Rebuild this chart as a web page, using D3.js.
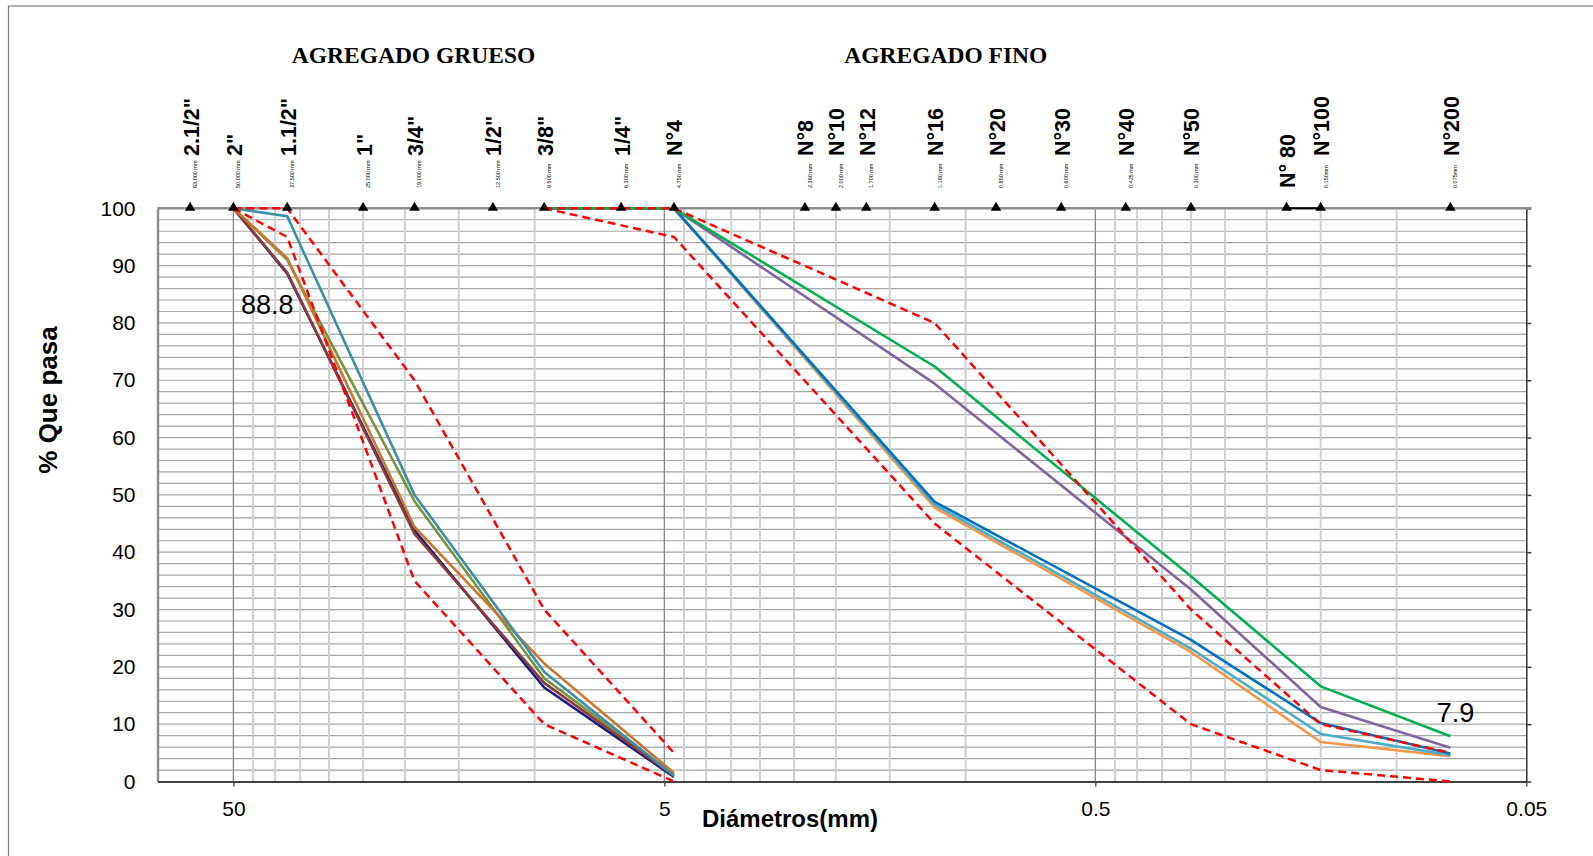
<!DOCTYPE html>
<html>
<head>
<meta charset="utf-8">
<script src="https://cdn.jsdelivr.net/npm/d3@7"></script>
<style>
body { margin: 0; background: #fff; }
text { font-family: "Liberation Sans", Arial, sans-serif; }
</style>
</head>
<body>
<div id="chart"></div>
<script>
// tamices (mm) y sus nombres
var sieveSizes = [63, 50, 37.5, 25, 19, 12.5, 9.5, 6.3, 4.75, 2.36, 2.0, 1.7, 1.18, 0.85, 0.6, 0.425, 0.3, 0.18, 0.15, 0.075];
var sieveNames = ["2.1/2\"", "2\"", "1.1/2\"", "1\"", "3/4\"", "1/2\"", "3/8\"", "1/4\"", "N°4", "N°8", "N°10", "N°12", "N°16", "N°20", "N°30", "N°40", "N°50", "N° 80", "N°100", "N°200"];
var sieveMm = ["63.000 mm", "50.000 mm", "37.500 mm", "25.000 mm", "19.000 mm", "12.500 mm", "9.500 mm", "6.300 mm", "4.750 mm", "2.360 mm", "2.000 mm", "1.700 mm", "1.180 mm", "0.850 mm", "0.600 mm", "0.425 mm", "0.300 mm", "", "0.150mm", "0.075mm"];

// agregado grueso
var coarseSizes = [50, 37.5, 19, 9.5, 4.75];
var coarseNavy = [100, 88.6, 43.8, 16.4, 0.8];
var coarseOlive = [100, 91.0, 48.9, 18.0, 1.2];
var coarseMaroon = [100, 88.8, 43.2, 17.2, 1.0];
var coarseOrange = [100, 91.3, 44.4, 20.6, 1.5];
var coarseTeal = [100, 98.6, 50.0, 19.1, 1.0];
var coarseLow = [100, 95, 35, 10, 0];
var coarseHigh = [100, 100, 70, 30, 5];

// agregado fino
var fineSizes = [9.5, 4.75, 1.18, 0.3, 0.15, 0.075];
var fineOrange = [100, 100, 47.8, 22.6, 6.9, 4.4];
var fineTeal = [100, 100, 48.3, 23.2, 8.3, 4.6];
var fineBlue = [100, 100, 48.8, 24.7, 10.2, 4.9];
var finePurple = [100, 100, 69.4, 33.5, 13.0, 5.9];
var fineGreen = [100, 100, 72.4, 35.8, 16.6, 7.9];
var fineLow = [100, 95, 45, 10, 2, 0];
var fineHigh = [100, 100, 80, 30, 10, 5];

var xTicks = [50, 5, 0.5, 0.05];
var yTicks = [0, 10, 20, 30, 40, 50, 60, 70, 80, 90, 100];

var width = 1593, height = 856;
var pLeft = 157.5, pRight = 1526.3, pTop = 208.3, pBottom = 781.5;

var svg = d3.select("#chart").append("svg")
    .attr("width", width)
    .attr("height", height);

// borde exterior
svg.append("rect")
    .attr("x", 8.5).attr("y", 6)
    .attr("width", 1700).attr("height", 1000)
    .attr("fill", "none").attr("stroke", "#7f7f7f").attr("stroke-width", 1.2);

var x = d3.scaleLog().domain([75, 0.05]).range([pLeft, pRight]);
var y = d3.scaleLinear().domain([0, 100]).range([pBottom, pTop]);

// grilla horizontal cada 2%
svg.append("g").selectAll("line")
    .data(d3.range(2, 100, 2))
    .enter().append("line")
    .attr("x1", pLeft).attr("x2", pRight)
    .attr("y1", function(d) { return y(d); })
    .attr("y2", function(d) { return y(d); })
    .attr("stroke", "#a6a6a6").attr("stroke-width", 1.2);

// grilla vertical (log)
var minor = [];
[0.05, 0.5, 5].forEach(function(b) {
  for (var k = 2; k <= 9; k++) minor.push(+(b * k).toFixed(3));
});
svg.append("g").selectAll("line")
    .data(minor)
    .enter().append("line")
    .attr("x1", function(d) { return x(d); })
    .attr("x2", function(d) { return x(d); })
    .attr("y1", pTop).attr("y2", pBottom)
    .attr("stroke", "#d0d0d0").attr("stroke-width", 2);
svg.append("g").selectAll("line")
    .data([50, 5, 0.5])
    .enter().append("line")
    .attr("x1", function(d) { return x(d); })
    .attr("x2", function(d) { return x(d); })
    .attr("y1", pTop).attr("y2", pBottom)
    .attr("stroke", "#8c8c8c").attr("stroke-width", 1.4);

// ejes
var yAxis = svg.append("g")
    .attr("transform", "translate(" + pLeft + ",0)")
    .call(d3.axisLeft(y).tickValues(yTicks).tickSize(0).tickPadding(22));
yAxis.select(".domain").attr("stroke", "#8c8c8c").attr("stroke-width", 2.5);
yAxis.selectAll("text").attr("font-size", 21).attr("fill", "#000")
    .style("font-family", "Liberation Sans, Arial, sans-serif");

var rAxis = svg.append("g")
    .attr("transform", "translate(" + pRight + ",0)")
    .call(d3.axisRight(y).tickValues(yTicks).tickSize(5).tickSizeOuter(0).tickFormat(""));
rAxis.selectAll("path,line").attr("stroke", "#404040").attr("stroke-width", 1.6);

svg.append("line")
    .attr("x1", pLeft).attr("x2", pRight + 5)
    .attr("y1", pTop).attr("y2", pTop)
    .attr("stroke", "#8c8c8c").attr("stroke-width", 2.5);

var xAxis = svg.append("g")
    .attr("transform", "translate(0," + pBottom + ")")
    .call(d3.axisBottom(x).tickValues(xTicks).tickSize(5).tickSizeOuter(0).tickPadding(15)
      .tickFormat(function(d) { return String(d); }));
xAxis.select(".domain").attr("stroke", "#404040").attr("stroke-width", 2);
xAxis.selectAll("line").attr("stroke", "#404040").attr("stroke-width", 1.3);
xAxis.selectAll("text").attr("font-size", 21).attr("fill", "#000")
    .style("font-family", "Liberation Sans, Arial, sans-serif");

// curvas
var line = d3.line()
    .x(function(d) { return x(d[0]); })
    .y(function(d) { return y(d[1]); });

function drawSerie(sizes, vals, color, dashed) {
  svg.append("path")
      .datum(d3.zip(sizes, vals))
      .attr("d", line)
      .attr("fill", "none")
      .attr("stroke", color)
      .attr("stroke-width", dashed ? 2.5 : 2.6)
      .attr("stroke-dasharray", dashed ? "8,5" : null)
      .attr("stroke-linejoin", "round");
}

drawSerie(coarseSizes, coarseNavy, "#1a1a80");
drawSerie(coarseSizes, coarseOlive, "#77933c");
drawSerie(coarseSizes, coarseMaroon, "#8e3b3b");
drawSerie(coarseSizes, coarseOrange, "#c9782f");
drawSerie(coarseSizes, coarseTeal, "#3b8fa8");

drawSerie(fineSizes, fineOrange, "#f79646");
drawSerie(fineSizes, fineTeal, "#4bacc6");
drawSerie(fineSizes, fineBlue, "#0070c0");
drawSerie(fineSizes, finePurple, "#8064a2");
drawSerie(fineSizes, fineGreen, "#00b050");

drawSerie(coarseSizes, coarseLow, "#ff0000", true);
drawSerie(coarseSizes, coarseHigh, "#ff0000", true);
drawSerie(fineSizes, fineLow, "#ff0000", true);
drawSerie(fineSizes, fineHigh, "#ff0000", true);

// etiquetas de datos
svg.append("text")
    .attr("x", x(coarseSizes[1]) - 20)
    .attr("y", y(coarseMaroon[1]) + 42)
    .attr("text-anchor", "middle")
    .attr("font-size", 27)
    .text(coarseMaroon[1]);
svg.append("text")
    .attr("x", x(fineSizes[5]) + 5)
    .attr("y", y(fineGreen[5]) - 14.5)
    .attr("text-anchor", "middle")
    .attr("font-size", 27)
    .text(fineGreen[5]);

// marcadores de tamices
svg.append("path")
    .datum([[sieveSizes[17], 100], [sieveSizes[18], 100]])
    .attr("d", line)
    .attr("stroke", "#000").attr("stroke-width", 2).attr("fill", "none");

svg.append("g").selectAll("path")
    .data(sieveSizes)
    .enter().append("path")
    .attr("d", d3.symbol(d3.symbolTriangle, 48))
    .attr("transform", function(d) { return "translate(" + x(d) + "," + (y(100) - 0.5) + ")"; })
    .attr("fill", "#000");

svg.append("g").selectAll("text")
    .data(sieveSizes)
    .enter().append("text")
    .attr("transform", function(d, i) {
      var y0 = sieveMm[i] === "" ? 188 : 156;
      return "translate(" + (x(d) + 8.5) + "," + y0 + ") rotate(-90)";
    })
    .attr("font-size", 21.5)
    .attr("font-weight", "bold")
    .text(function(d, i) { return sieveNames[i]; });

svg.append("g").selectAll("text")
    .data(sieveSizes)
    .enter().append("text")
    .attr("transform", function(d) { return "translate(" + (x(d) + 7) + ",188) rotate(-90)"; })
    .attr("font-size", 5.5)
    .text(function(d, i) { return sieveMm[i]; });

// titulos
svg.append("text")
    .attr("x", 413.5).attr("y", 63)
    .attr("text-anchor", "middle")
    .attr("font-size", 23.5).attr("font-weight", "bold")
    .style("font-family", "Liberation Serif, Times New Roman, serif")
    .text("AGREGADO GRUESO");
svg.append("text")
    .attr("x", 945.8).attr("y", 63)
    .attr("text-anchor", "middle")
    .attr("font-size", 23.5).attr("font-weight", "bold")
    .style("font-family", "Liberation Serif, Times New Roman, serif")
    .text("AGREGADO FINO");

svg.append("text")
    .attr("transform", "translate(57,400) rotate(-90)")
    .attr("text-anchor", "middle")
    .attr("font-size", 26).attr("font-weight", "bold")
    .text("% Que pasa");
svg.append("text")
    .attr("x", 790).attr("y", 827)
    .attr("text-anchor", "middle")
    .attr("font-size", 24).attr("font-weight", "bold")
    .text("Diámetros(mm)");
</script>
</body>
</html>
